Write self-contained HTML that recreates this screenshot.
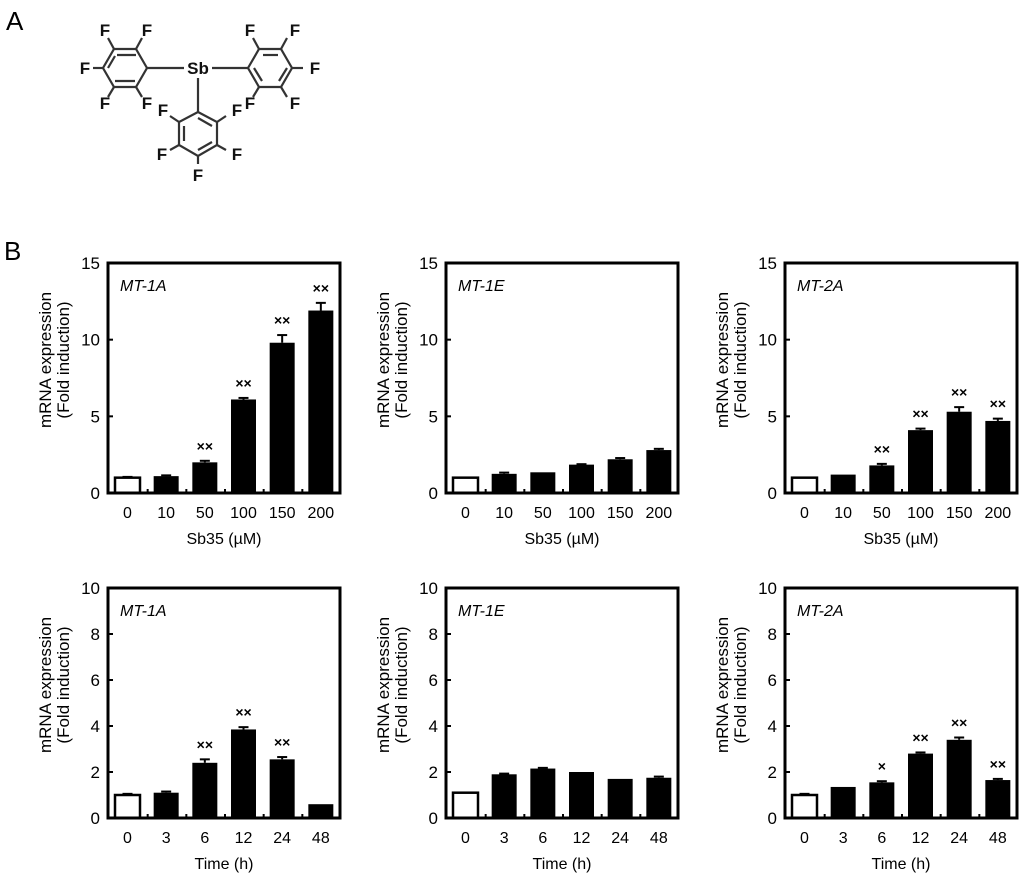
<!DOCTYPE html>
<html><head><meta charset="utf-8">
<style>
html,body{margin:0;padding:0;background:#fff;}
svg{display:block;font-family:"Liberation Sans",Arial,sans-serif;}
</style></head>
<body>
<svg id="fig" width="1024" height="879" viewBox="0 0 1024 879">
<text x="6" y="30" font-size="26">A</text>
<g id="chem" stroke="#333" stroke-width="2.2" fill="none">
  <polygon points="147,68 136,49 114,49 103,68 114,87 136,87"/>
  <line x1="136" y1="55" x2="117" y2="55"/><line x1="108" y1="68" x2="115" y2="56"/><line x1="115" y1="81" x2="135" y2="81"/>
  <polygon points="248,68 259,49 281,49 292,68 281,87 259,87"/>
  <line x1="263" y1="55" x2="278" y2="55"/><line x1="287" y1="68" x2="279" y2="81"/><line x1="254" y1="68" x2="262" y2="81"/>
  <polygon points="198,112 217,122 217,145 198,156 179,145 179,122"/>
  <line x1="198" y1="118" x2="212" y2="126"/><line x1="184" y1="126" x2="184" y2="141"/><line x1="198" y1="150" x2="212" y2="142"/>
  <line x1="147" y1="68" x2="184" y2="68"/><line x1="212" y1="68" x2="248" y2="68"/><line x1="198" y1="78" x2="198" y2="112"/>
  <line x1="114" y1="49" x2="108" y2="38"/><line x1="136" y1="49" x2="142" y2="38"/><line x1="103" y1="68" x2="93" y2="68"/>
  <line x1="114" y1="87" x2="108" y2="97"/><line x1="136" y1="87" x2="142" y2="97"/>
  <line x1="259" y1="49" x2="253" y2="38"/><line x1="281" y1="49" x2="287" y2="38"/><line x1="292" y1="68" x2="303" y2="68"/>
  <line x1="259" y1="87" x2="253" y2="97"/><line x1="281" y1="87" x2="287" y2="97"/>
  <line x1="179" y1="122" x2="170" y2="116"/><line x1="217" y1="122" x2="226" y2="116"/>
  <line x1="179" y1="145" x2="170" y2="150"/><line x1="217" y1="145" x2="226" y2="150"/><line x1="198" y1="156" x2="198" y2="164"/>
</g>
<g font-size="17" font-weight="bold" fill="#111" text-anchor="middle">
  <text x="105" y="36">F</text><text x="147" y="36">F</text><text x="85" y="74">F</text><text x="105" y="109">F</text><text x="147" y="109">F</text>
  <text x="198" y="74">Sb</text>
  <text x="250" y="36">F</text><text x="295" y="36">F</text><text x="315" y="74">F</text><text x="250" y="109">F</text><text x="295" y="109">F</text>
  <text x="163" y="116">F</text><text x="237" y="116">F</text><text x="162" y="160">F</text><text x="237" y="160">F</text><text x="198" y="181">F</text>
</g>
<text x="4" y="260" font-size="26">B</text>
<g id="charts"></g>
</svg>
<script>
const concCats = ["0","10","50","100","150","200"];
const timeCats = ["0","3","6","12","24","48"];
const concTicks = [0,5,10,15];
const timeTicks = [0,2,4,6,8,10];
const mt1aConc = [1,1.1,2,6.1,9.8,11.9];
const mt1aConcErr = [0.05,0.05,0.1,0.1,0.5,0.5];
const mt1aConcSig = ["","","**","**","**","**"];
const mt1eConc = [1,1.25,1.35,1.85,2.2,2.8];
const mt1eConcErr = [0,0.08,0,0.03,0.08,0.08];
const mt1eConcSig = ["","","","","",""];
const mt2aConc = [1,1.2,1.8,4.1,5.3,4.7];
const mt2aConcErr = [0,0,0.1,0.1,0.3,0.15];
const mt2aConcSig = ["","","**","**","**","**"];
const mt1aTime = [1,1.1,2.4,3.85,2.55,0.6];
const mt1aTimeErr = [0.05,0.05,0.15,0.1,0.1,0];
const mt1aTimeSig = ["","","**","**","**",""];
const mt1eTime = [1.1,1.9,2.15,2.0,1.7,1.75];
const mt1eTimeErr = [0,0.03,0.03,0,0,0.05];
const mt1eTimeSig = ["","","","","",""];
const mt2aTime = [1,1.35,1.55,2.8,3.4,1.65];
const mt2aTimeErr = [0.05,0,0.05,0.05,0.1,0.05];
const mt2aTimeSig = ["","","*","**","**","**"];

const NS="http://www.w3.org/2000/svg";
const root=document.getElementById('charts');
function mk(tag,attrs,parent,text){const e=document.createElementNS(NS,tag);for(const k in attrs)e.setAttribute(k,attrs[k]);if(text!==undefined)e.textContent=text;parent.appendChild(e);return e;}

function panel(id,x0,y0,gene,cats,vals,errs,sigs,ticks,xtitle){
  const W=232,H=230,ymax=ticks[ticks.length-1];
  const g=mk('g',{},root);
  
  
  const sy=v=>y0+H-v/ymax*H;
  const slot=W/cats.length, bw=25;
  const sx=i=>x0+i*slot+7;
  vals.forEach((v,i)=>{
    const r=mk('rect',{x:sx(i),y:sy(v),width:bw,height:sy(0)-sy(v),fill:i===0?'#fff':'#000',stroke:'#000','stroke-width':i===0?2.5:0},g);
    
    
    if(errs[i]>0){
      const cx=sx(i)+bw/2;
      mk('line',{x1:cx,x2:cx,y1:sy(v),y2:sy(v+errs[i]),stroke:'#000','stroke-width':2},g);
      mk('line',{x1:cx-5,x2:cx+5,y1:sy(v+errs[i]),y2:sy(v+errs[i]),stroke:'#000','stroke-width':2},g);
    }
    if(sigs[i]){
      const t=mk('text',{x:sx(i)+bw/2,y:sy(v+errs[i])-10,'font-size':14,'font-weight':'bold','text-anchor':'middle'},g,sigs[i].replace(/\*/g,'×'));
      
      
    }
    const lb=mk('text',{x:sx(i)+bw/2,y:y0+H+25,'font-size':16,'text-anchor':'middle'},g,cats[i]);
    
    
    if(i>0) mk('line',{x1:x0+i*slot+1,x2:x0+i*slot+1,y1:y0+H,y2:y0+H-4,stroke:'#000','stroke-width':2},g);
  });
  ticks.forEach(t=>{
    if(t>0&&t<ymax) mk('line',{x1:x0,x2:x0+5,y1:sy(t),y2:sy(t),stroke:'#000','stroke-width':2},g);
    const tl=mk('text',{x:x0-8,y:sy(t)+6,'font-size':17,'text-anchor':'end'},g,String(t));
    
    
  });
  const fr=mk('rect',{x:x0,y:y0,width:W,height:H,fill:'none',stroke:'#000','stroke-width':3},g);
  
  
  const gt=mk('text',{x:x0+12,y:y0+28,'font-size':16,'font-style':'italic'},g,gene);
  
  
  const xt=mk('text',{x:x0+W/2,y:y0+H+51,'font-size':16,'text-anchor':'middle'},g,xtitle);
  
  
  const cy=y0+97;
  const yt=mk('text',{x:0,y:0,'font-size':17,'text-anchor':'middle',transform:`translate(${x0-57},${cy}) rotate(-90)`},g);
  
  
  mk('tspan',{x:0,dy:0},yt,'mRNA expression');
  mk('tspan',{x:0,dy:18},yt,'(Fold induction)');
}
const cx=[108,446,785];
panel('chart-mt1a-conc',cx[0],263,'MT-1A',concCats,mt1aConc,mt1aConcErr,mt1aConcSig,concTicks,'Sb35 (µM)');
panel('chart-mt1e-conc',cx[1],263,'MT-1E',concCats,mt1eConc,mt1eConcErr,mt1eConcSig,concTicks,'Sb35 (µM)');
panel('chart-mt2a-conc',cx[2],263,'MT-2A',concCats,mt2aConc,mt2aConcErr,mt2aConcSig,concTicks,'Sb35 (µM)');
panel('chart-mt1a-time',cx[0],588,'MT-1A',timeCats,mt1aTime,mt1aTimeErr,mt1aTimeSig,timeTicks,'Time (h)');
panel('chart-mt1e-time',cx[1],588,'MT-1E',timeCats,mt1eTime,mt1eTimeErr,mt1eTimeSig,timeTicks,'Time (h)');
panel('chart-mt2a-time',cx[2],588,'MT-2A',timeCats,mt2aTime,mt2aTimeErr,mt2aTimeSig,timeTicks,'Time (h)');
</script>
</body></html>
